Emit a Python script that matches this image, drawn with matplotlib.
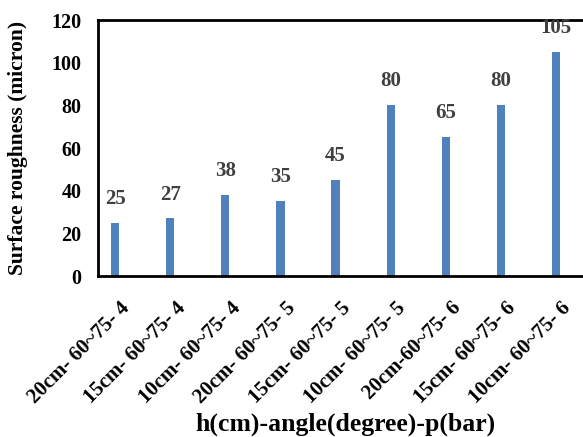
import matplotlib.pyplot as plt
import matplotlib.transforms as mtransforms

# Categories and values
labels = ['20cm- 60~75- 4', '15cm- 60~75- 4', '10cm- 60~75- 4',
          '20cm- 60~75- 5', '15cm- 60~75- 5', '10cm- 60~75- 5',
          '20cm-60~75- 6', '15cm- 60~75- 6', '10cm- 60~75- 6']
roughness = [25, 27, 38, 35, 45, 80, 65, 80, 105]

plt.rcParams['font.family'] = 'Liberation Serif'
plt.rcParams['font.weight'] = 'bold'

fig = plt.figure(figsize=(5.83, 4.37), dpi=100)
ax = fig.add_axes([98 / 583, 1 - 276 / 437, 1 - 98 / 583, 256 / 437])

x = list(range(len(labels)))
bars = ax.bar(x, roughness, width=0.15, color='#4F81BD')

# value labels above bars
for xi, v in zip(x, roughness):
    ax.annotate(str(v), (xi, v), xytext=(0, 10), textcoords='offset points',
                ha='center', va='bottom', fontsize=15, fontweight='bold',
                color='#404040')

ax.set_xlim(-0.31, 8.49)
ax.set_ylim(0, 120)
ax.set_yticks(range(0, 121, 20))
ax.set_xticks(x)
ax.set_xticklabels(labels, rotation=45, ha='right', rotation_mode='anchor',
                   fontsize=15, fontweight='bold')
ax.tick_params(axis='both', length=0)
ax.tick_params(axis='y', pad=12, labelsize=14.5)
ax.tick_params(axis='x', pad=16)

# nudge x tick labels a little to the right
shift = mtransforms.ScaledTranslation(5 / 100, 0, fig.dpi_scale_trans)
for t in ax.get_xticklabels():
    t.set_transform(t.get_transform() + shift)

for s in ['left', 'top', 'bottom']:
    ax.spines[s].set_linewidth(2)
    ax.spines[s].set_color('black')
ax.spines['right'].set_visible(False)

ax.set_ylabel('Surface roughness (micron)', fontsize=15.5, fontweight='bold')
ax.set_xlabel('h(cm)-angle(degree)-p(bar)', fontsize=18.5, fontweight='bold')
ax.yaxis.set_label_coords(-0.145, 0.5)
ax.xaxis.set_label_coords(0.51, -0.535)

plt.savefig('out.png', dpi=100)
